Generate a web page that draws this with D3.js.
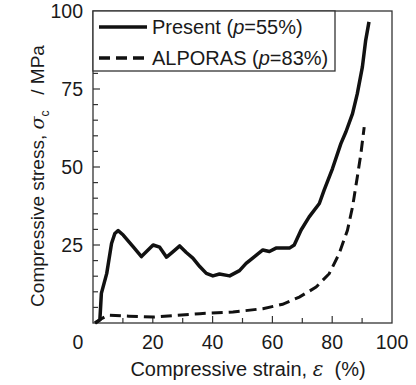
<!DOCTYPE html>
<html>
<head>
<meta charset="utf-8"/>
<script src="https://d3js.org/d3.v7.min.js"></script>
<style>
  body { margin: 0; background: #fff; }
  text { font-family: "Liberation Sans", Arial, sans-serif; fill: #1a1a1a; white-space: pre; }
</style>
</head>
<body>
<svg id="chart" width="416" height="385"></svg>
<script>
    // curva del presente (p=55%)
    const presentStrain = [0.7, 2.3, 2.8, 4.6, 6.2, 7.3, 8.4, 10.1, 13.4, 16.2, 17.9, 20.1, 22.3, 24.6, 26.8, 29.0, 31.2, 33.4, 35.7, 37.9, 40.1, 42.3, 45.7, 49.0, 51.2, 53.4, 56.8, 59.0, 61.2, 65.7, 67.3, 69.6, 72.3, 75.7, 77.3, 80.1, 82.9, 84.6, 86.8, 88.4, 90.1, 91.2, 92.3];
    const presentStress = [0, 1, 9.5, 15.9, 25.5, 28.7, 29.6, 28.2, 24.5, 21.3, 22.9, 25.0, 24.3, 21.1, 22.9, 24.7, 22.6, 20.8, 18.1, 15.9, 15.1, 15.7, 15.1, 16.8, 19.1, 20.8, 23.4, 22.9, 24.0, 24.0, 25.0, 29.8, 34.0, 38.3, 42.6, 49.5, 57.5, 61.3, 67.1, 73.5, 82.1, 90.6, 96.5];

    // ALPORAS (p=83%)
    const alporasStrain = [0.7, 2.7, 5.0, 12.0, 20.1, 35.7, 46.8, 56.8, 63.4, 69.0, 74.6, 79.0, 82.3, 85.1, 86.8, 88.4, 89.6, 90.7];
    const alporasStress = [0, 1.3, 2.5, 2.2, 1.9, 3.0, 3.5, 4.6, 6.0, 8.3, 11.5, 15.8, 22.2, 29.7, 37.2, 46.8, 54.3, 62.8];

    const xTicks = [0, 20, 40, 60, 80, 100];
    const yTicks = [25, 50, 75, 100];
    const legendLabels = ["Present", "ALPORAS"];
    const legendP = ["55%", "83%"];

    const svg = d3.select("#chart");
    const m = {left: 93, right: 392, top: 11, bottom: 323};

    const x = d3.scaleLinear().domain([0, 100]).range([m.left, m.right]);
    const y = d3.scaleLinear().domain([0, 100]).range([m.bottom, m.top]);

    // marco
    svg.append("rect")
        .attr("x", m.left).attr("y", m.top)
        .attr("width", m.right - m.left).attr("height", m.bottom - m.top)
        .attr("fill", "none").attr("stroke", "#333").attr("stroke-width", 1.3);

    // ticks hacia adentro
    svg.append("g").selectAll("line")
        .data(d3.range(5, 100, 5)).enter()
        .append("line")
        .attr("x1", m.left).attr("x2", d => m.left + (d % 25 === 0 ? 7 : 5))
        .attr("y1", d => y(d)).attr("y2", d => y(d))
        .attr("stroke", "#333").attr("stroke-width", 1.2);

    svg.append("g").selectAll("line")
        .data(d3.range(10, 100, 10)).enter()
        .append("line")
        .attr("x1", d => x(d)).attr("x2", d => x(d))
        .attr("y1", m.bottom).attr("y2", d => m.bottom - (d % 20 === 0 ? 7 : 5))
        .attr("stroke", "#333").attr("stroke-width", 1.2);

    // etiquetas
    svg.append("g").selectAll("text")
        .data(yTicks).enter()
        .append("text")
        .attr("x", m.left - 10).attr("y", d => y(d) + 7)
        .attr("text-anchor", "end")
        .style("font-size", "19.5px")
        .text(d => d);

    svg.append("g").selectAll("text")
        .data(xTicks).enter()
        .append("text")
        .attr("x", d => x(d) - (d === 0 ? 15 : 0)).attr("y", 349)
        .attr("text-anchor", "middle")
        .style("font-size", "19.5px")
        .text(d => d);

    // títulos
    const xt = svg.append("text")
        .attr("x", 248).attr("y", 376)
        .attr("text-anchor", "middle")
        .style("font-size", "20px");
    xt.append("tspan").text("Compressive strain, ");
    xt.append("tspan").style("font-family", "'DejaVu Serif', serif").style("font-style", "italic").text("ε");
    xt.append("tspan").text("  (%)");

    const yt = svg.append("text")
        .attr("transform", "translate(44,176) rotate(-90)")
        .attr("text-anchor", "middle")
        .style("font-size", "19px");
    yt.append("tspan").text("Compressive stress, ");
    yt.append("tspan").style("font-family", "'DejaVu Serif', serif").style("font-style", "italic").text("σ");
    yt.append("tspan").attr("dy", 5).style("font-size", "12px").text("c");
    yt.append("tspan").attr("dy", -5).text("   / MPa");

    // líneas
    const line = d3.line().x(d => x(d[0])).y(d => y(d[1])).curve(d3.curveLinear);

    svg.append("path")
        .datum(d3.zip(alporasStrain, alporasStress))
        .attr("d", line)
        .attr("fill", "none").attr("stroke", "#111").attr("stroke-width", 3)
        .attr("stroke-dasharray", "11,6");

    svg.append("path")
        .datum(d3.zip(presentStrain, presentStress))
        .attr("d", line)
        .attr("fill", "none").attr("stroke", "#111").attr("stroke-width", 3.5)
        .attr("stroke-linejoin", "round");

    // leyenda
    svg.append("rect")
        .attr("x", m.left).attr("y", m.top)
        .attr("width", 242).attr("height", 60)
        .attr("fill", "#fff").attr("stroke", "#333").attr("stroke-width", 1.3);

    legendLabels.forEach((lab, i) => {
        const ly = 27 + i * 31;
        svg.append("line")
            .attr("x1", 99).attr("x2", 147).attr("y1", ly).attr("y2", ly)
            .attr("stroke", "#111").attr("stroke-width", 3.5)
            .attr("stroke-dasharray", i === 0 ? null : "11,6");
        const t = svg.append("text")
            .attr("x", 152).attr("y", ly + 7)
            .style("font-size", "20px");
        t.append("tspan").text(lab + " (");
        t.append("tspan").style("font-style", "italic").text("p");
        t.append("tspan").text("=" + legendP[i] + ")");
    });
</script>
</body>
</html>
